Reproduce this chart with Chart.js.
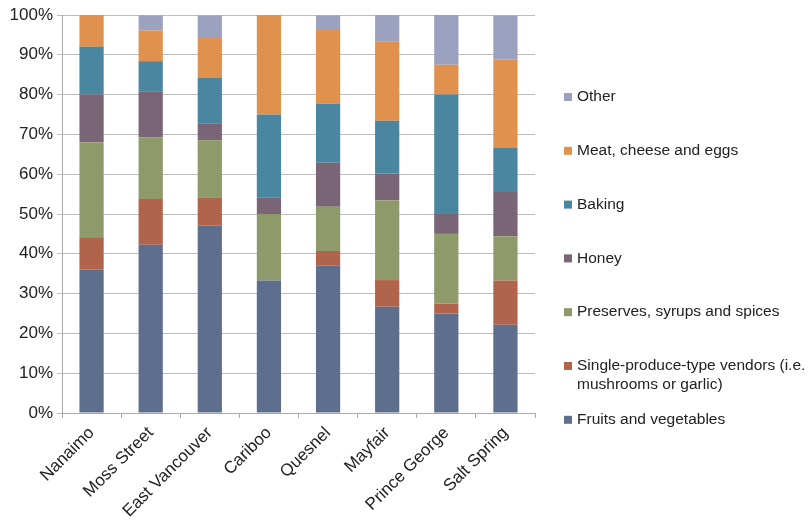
<!DOCTYPE html>
<html>
<head>
<meta charset="utf-8">
<script src="https://cdn.jsdelivr.net/npm/chart.js@4/dist/chart.umd.min.js"></script>
<style>
  html, body { margin: 0; padding: 0; background: #fff; }
  #wrap { width: 810px; height: 527px; }
</style>
</head>
<body>
<div id="wrap"><canvas id="chart" width="810" height="527"></canvas></div>
<script>
var markets = ['Nanaimo', 'Moss Street', 'East Vancouver', 'Cariboo', 'Quesnel', 'Mayfair', 'Prince George', 'Salt Spring'];

// share of vendors (%) per market, bottom to top
var fruitsVeg   = [36, 42.3, 47.1, 33.3, 37.0, 26.7, 25.0, 22.2];
var singleProd  = [8, 11.5, 7.1, 0, 3.7, 6.7, 2.5, 11.1];
var preserves   = [24, 15.4, 14.3, 16.7, 11.1, 20.0, 17.5, 11.1];
var honey       = [12, 11.5, 4.3, 4.2, 11.1, 6.7, 5.0, 11.1];
var baking      = [12, 7.7, 11.4, 20.8, 14.8, 13.3, 30.0, 11.1];
var meatCheese  = [8, 7.7, 10.0, 25.0, 18.5, 20.0, 7.5, 22.2];
var other       = [0, 3.8, 5.7, 0, 3.7, 6.7, 12.5, 11.1];

var seriesNames = ['Fruits and vegetables',
  ['Single-produce-type vendors (i.e.', 'mushrooms or garlic)'],
  'Preserves, syrups and spices', 'Honey', 'Baking', 'Meat, cheese and eggs', 'Other'];
var seriesData = [fruitsVeg, singleProd, preserves, honey, baking, meatCheese, other];
var seriesColors = ['#5e6f8e', '#b0644b', '#8e9a6a', '#7a6577', '#4b86a1', '#e0914e', '#9ba1be'];

var yTicks = [0, 10, 20, 30, 40, 50, 60, 70, 80, 90, 100];

var FONT = '"Liberation Sans", Arial, Helvetica, sans-serif';

var datasets = seriesData.map(function (d, i) {
    return {
        label: seriesNames[i],
        data: d,
        backgroundColor: seriesColors[i],
        borderWidth: 0,
        barPercentage: 0.41,
        categoryPercentage: 1.0
    };
});

// legend on the right, drawn top to bottom in reverse series order
var sideLegend = {
    id: 'sideLegend',
    afterDraw: function (chart) {
        var ctx = chart.ctx;
        ctx.save();
        ctx.font = '15.5px ' + FONT;
        ctx.textBaseline = 'middle';
        var x = 564, y = 97, step = 53.8;
        for (var i = datasets.length - 1; i >= 0; i--) {
            var name = datasets[i].label;
            var lines = Array.isArray(name) ? name : [name];
            ctx.fillStyle = datasets[i].backgroundColor;
            ctx.fillRect(x, y - 4, 8, 8);
            ctx.fillStyle = '#222';
            lines.forEach(function (t, k) { ctx.fillText(t, x + 13, y + k * 19); });
            y += step;
        }
        ctx.restore();
    }
};

var ctx = document.getElementById('chart').getContext('2d');
var myChart = new Chart(ctx, {
    type: 'bar',
    data: { labels: markets, datasets: datasets },
    options: {
        responsive: false,
        animation: false,
        layout: { padding: { top: 15, right: 275, left: 0, bottom: 0 } },
        plugins: { legend: { display: false }, tooltip: { enabled: false } },
        scales: {
            x: {
                stacked: true,
                grid: { display: true, drawOnChartArea: false, drawTicks: true, tickLength: 5, color: '#a9a9a9', offset: true },
                border: { color: '#a9a9a9' },
                ticks: { minRotation: 45, maxRotation: 45, color: '#222', font: { family: FONT, size: 17 }, padding: 5 },
                afterFit: function (s) { s.height = 114; }
            },
            y: {
                stacked: true,
                min: 0, max: 100,
                afterBuildTicks: function (s) { s.ticks = yTicks.map(function (v) { return { value: v }; }); },
                grid: { color: '#bdbdbd', tickLength: 5 },
                border: { color: '#a9a9a9' },
                ticks: {
                    color: '#222', padding: 4,
                    font: { family: FONT, size: 17 },
                    callback: function (v) { return v + '%'; }
                },
                afterFit: function (s) { s.width = 62; }
            }
        }
    },
    plugins: [sideLegend]
});
</script>
</body>
</html>
